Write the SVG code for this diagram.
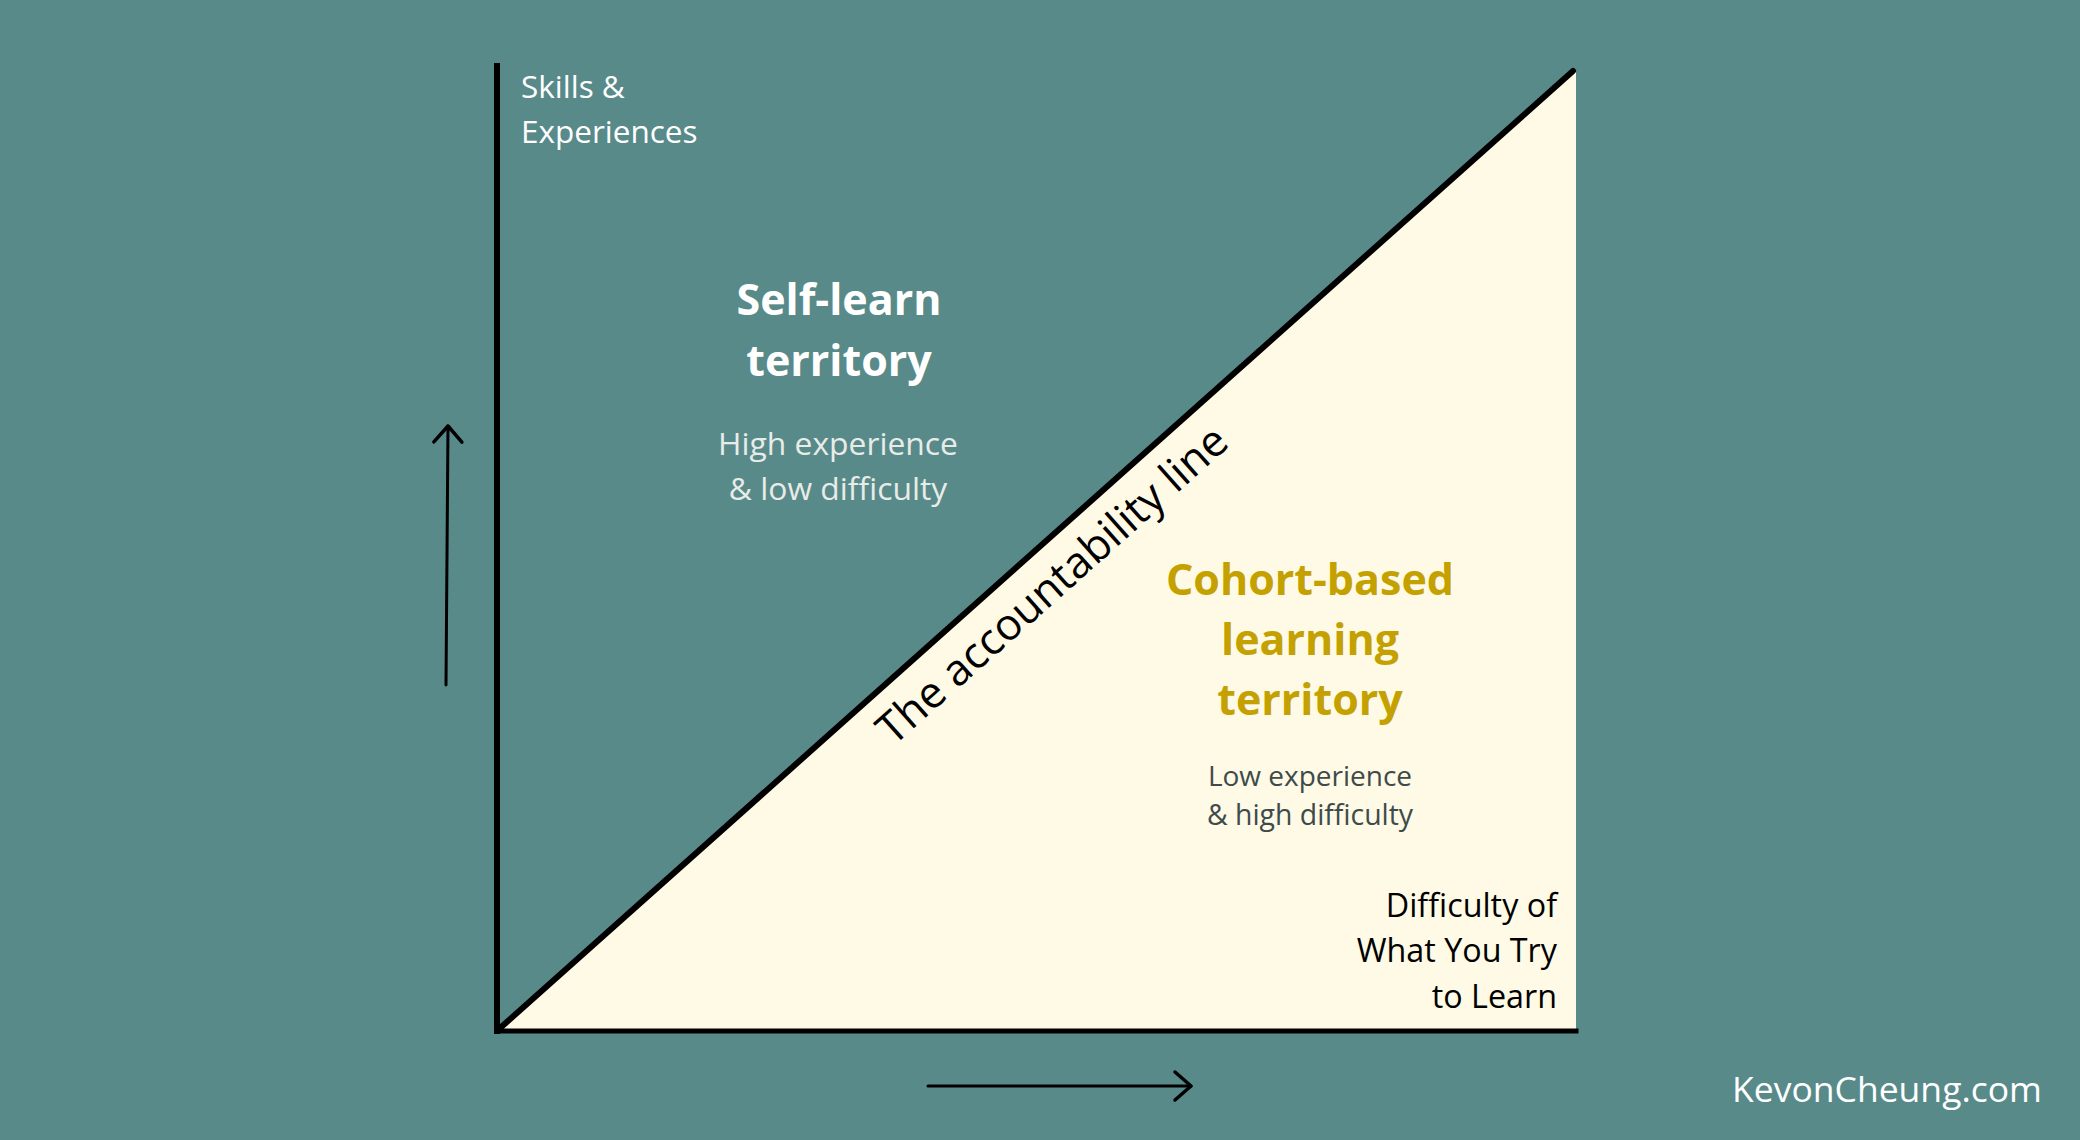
<svg xmlns="http://www.w3.org/2000/svg" width="2080" height="1140" viewBox="0 0 2080 1140">
<defs>
<style>
.t{font-family:"Open Sans","Noto Sans","Liberation Sans",sans-serif}
.lab{font-size:31.5px;fill:#ffffff}
.labd{font-size:32.3px;fill:#000000}
.ttl{font-size:43px;font-weight:bold;text-anchor:middle}
.ax{stroke:#000;fill:none;stroke-linecap:square}
.arr{stroke:#000;stroke-width:3;fill:none;stroke-linecap:round}
</style>
<marker id="chev" markerUnits="userSpaceOnUse" viewBox="-20 -18 24 36" markerWidth="24" markerHeight="36" refX="0" refY="0" orient="auto">
<path d="M-16,-14 L0,0 L-16,14" fill="none" stroke="#000" stroke-width="3.5" stroke-linecap="round" stroke-linejoin="round"/>
</marker>
</defs>
<rect width="2080" height="1140" fill="#588a8a"/>
<g id="cohort-region">
<polygon points="497,1031 1576,70 1576,1031" fill="#fefae6"/>
</g>
<g id="axes">
<line class="ax" x1="497" y1="66" x2="497" y2="1031" stroke-width="6"/>
<line class="ax" x1="497" y1="1031" x2="1576" y2="1031" stroke-width="5"/>
<line x1="499" y1="1029" x2="1573" y2="71" stroke="#000" stroke-width="6" stroke-linecap="round"/>
</g>
<g id="connectors">
<line class="arr" x1="446" y1="685" x2="448" y2="426" marker-end="url(#chev)"/>
<line class="arr" x1="928" y1="1086" x2="1191" y2="1086" marker-end="url(#chev)"/>
</g>
<g id="y-label">
<text class="t lab" x="521" y="98">Skills &amp;</text>
<text class="t lab" x="521" y="143">Experiences</text>
</g>
<g id="x-label">
<text class="t labd" x="1557" y="917" text-anchor="end">Difficulty of</text>
<text class="t labd" x="1557" y="962" text-anchor="end">What You Try</text>
<text class="t labd" x="1557" y="1008" text-anchor="end">to Learn</text>
</g>
<g id="self-learn">
<text class="t ttl" x="839" y="315" fill="#ffffff">Self-learn</text>
<text class="t ttl" x="839" y="376" fill="#ffffff">territory</text>
<text class="t" x="838" y="455" font-size="31.8" fill="#e8ece8" text-anchor="middle">High experience</text>
<text class="t" x="838" y="500" font-size="31.8" fill="#e8ece8" text-anchor="middle">&amp; low difficulty</text>
</g>
<g id="cohort">
<text class="t ttl" x="1310" y="595" fill="#c4a100">Cohort-based</text>
<text class="t ttl" x="1310" y="655" fill="#c4a100">learning</text>
<text class="t ttl" x="1310" y="715" fill="#c4a100">territory</text>
<text class="t" x="1310" y="786" font-size="28" fill="#3f4b4a" text-anchor="middle">Low experience</text>
<text class="t" x="1310" y="825" font-size="28.4" fill="#3f4b4a" text-anchor="middle">&amp; high difficulty</text>
</g>
<g id="accountability-line-label">
<text class="t" transform="translate(1062,596) rotate(-41.74)" x="0" y="0" font-size="43.5" fill="#000" text-anchor="middle">The accountability line</text>
</g>
<g id="credit">
<text class="t" x="1732" y="1102" font-size="35.5" fill="#ffffff">KevonCheung.com</text>
</g>
</svg>
